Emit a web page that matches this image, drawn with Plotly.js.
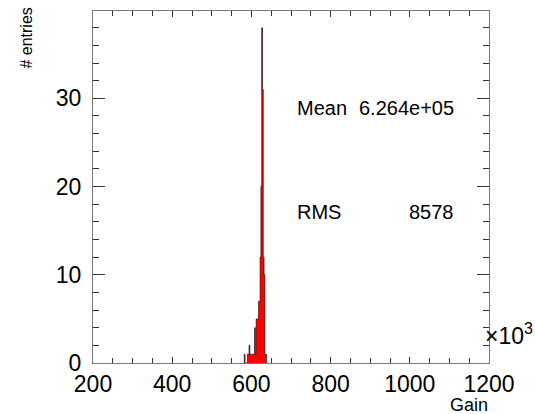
<!DOCTYPE html>
<html>
<head>
<meta charset="utf-8">
<script src="https://cdn.plot.ly/plotly-3.0.1.min.js"></script>
<style>
  html, body { margin: 0; padding: 0; background: #fff; }
  #chart { width: 535px; height: 414px; }
</style>
</head>
<body>
<div id="chart"></div>
<script>
// Gain histogram (x in units of 10^3), bin width 2 (x10^3)
const binWidth = 2;
const binLowEdges = [582, 584, 586, 588, 590, 592, 594, 596, 598, 600, 602, 604, 606, 608, 610,
                     612, 614, 616, 618, 620, 622, 624, 626, 628, 630, 632, 634, 636, 638];
const binCounts   = [1, 0, 0, 0, 1, 1, 2, 1, 1, 1, 1, 1, 1, 4, 1,
                     5, 5, 5, 7, 7, 12, 20, 38, 31, 12, 10, 1, 1, 0];
const statLabels = ["Mean", "RMS"];
const statValues = ["6.264e+05", "8578"];
const xTickVals = [200, 400, 600, 800, 1000, 1200];
const yTickVals = [0, 10, 20, 30];

// build the histogram contour (step) from bins
const sx = [binLowEdges[0]], sy = [0];
for (let i = 0; i < binLowEdges.length; i++) { sx.push(binLowEdges[i]); sy.push(binCounts[i]); }
sx.push(binLowEdges[binLowEdges.length - 1] + binWidth); sy.push(0);

const FONT = '"Liberation Sans", Arial, Helvetica, sans-serif';

const fillTrace = {
  type: 'scatter', mode: 'lines', x: sx, y: sy,
  line: { shape: 'hv', color: 'rgba(0,0,0,0)', width: 0 },
  fill: 'tozeroy', fillcolor: '#ff0000', hoverinfo: 'skip'
};
const outlineTrace = {
  type: 'scatter', mode: 'lines', x: sx, y: sy,
  line: { shape: 'hv', color: '#000000', width: 0.6 },
  hoverinfo: 'skip'
};

const statFont = { family: FONT, size: 20, color: '#000' };

const layout = {
  width: 535, height: 414,
  margin: { l: 93, r: 46, t: 11, b: 51 },
  paper_bgcolor: '#ffffff', plot_bgcolor: '#ffffff',
  showlegend: false,
  font: { family: FONT, color: '#000' },
  xaxis: {
    range: [200, 1200], tickvals: xTickVals, ticktext: xTickVals.map(String),
    ticks: 'inside', ticklen: 6, tickcolor: '#333', tickwidth: 1,
    showline: true, linecolor: '#777', linewidth: 1, mirror: 'ticks',
    showgrid: false, zeroline: false,
    tickfont: { family: FONT, size: 23, color: '#000' },
    minor: { dtick: 50, ticks: 'inside', ticklen: 5, tickcolor: '#333', showgrid: false },
    fixedrange: true
  },
  yaxis: {
    range: [0, 39.9], tickvals: yTickVals, ticktext: yTickVals.map(String),
    ticks: 'inside', ticklen: 12, tickcolor: '#333', tickwidth: 1,
    showline: true, linecolor: '#777', linewidth: 1, mirror: 'ticks',
    showgrid: false, zeroline: false,
    tickfont: { family: FONT, size: 23, color: '#000' },
    ticklabelstandoff: 6,
    minor: { dtick: 2, ticks: 'inside', ticklen: 6, tickcolor: '#333', showgrid: false },
    fixedrange: true
  },
  annotations: [
    { xref: 'paper', yref: 'paper', x: -0.168, y: 0.923, text: '# entries', textangle: -90,
      showarrow: false, font: { family: FONT, size: 16, color: '#000' }, xanchor: 'center', yanchor: 'middle' },
    { xref: 'paper', yref: 'paper', x: 1.003, y: -0.154, text: 'Gain', showarrow: false,
      font: { family: FONT, size: 18, color: '#000' }, xanchor: 'right', yanchor: 'bottom' },
    { xref: 'paper', yref: 'paper', x: 1.116, y: 0.035, text: '×10<sup>3</sup>', showarrow: false,
      font: { family: FONT, size: 23, color: '#000' }, xanchor: 'right', yanchor: 'bottom' },
    { xref: 'paper', yref: 'paper', x: 0.511, y: 0.7244, text: statLabels[0], showarrow: false,
      font: statFont, xanchor: 'left', yanchor: 'middle' },
    { xref: 'paper', yref: 'paper', x: 0.917, y: 0.7244, text: statValues[0], showarrow: false,
      font: statFont, xanchor: 'right', yanchor: 'middle' },
    { xref: 'paper', yref: 'paper', x: 0.511, y: 0.429, text: statLabels[1], showarrow: false,
      font: statFont, xanchor: 'left', yanchor: 'middle' },
    { xref: 'paper', yref: 'paper', x: 0.917, y: 0.429, text: statValues[1], showarrow: false,
      font: statFont, xanchor: 'right', yanchor: 'middle' }
  ]
};

Plotly.newPlot('chart', [fillTrace, outlineTrace], layout, { staticPlot: true, displayModeBar: false });
</script>
</body>
</html>
